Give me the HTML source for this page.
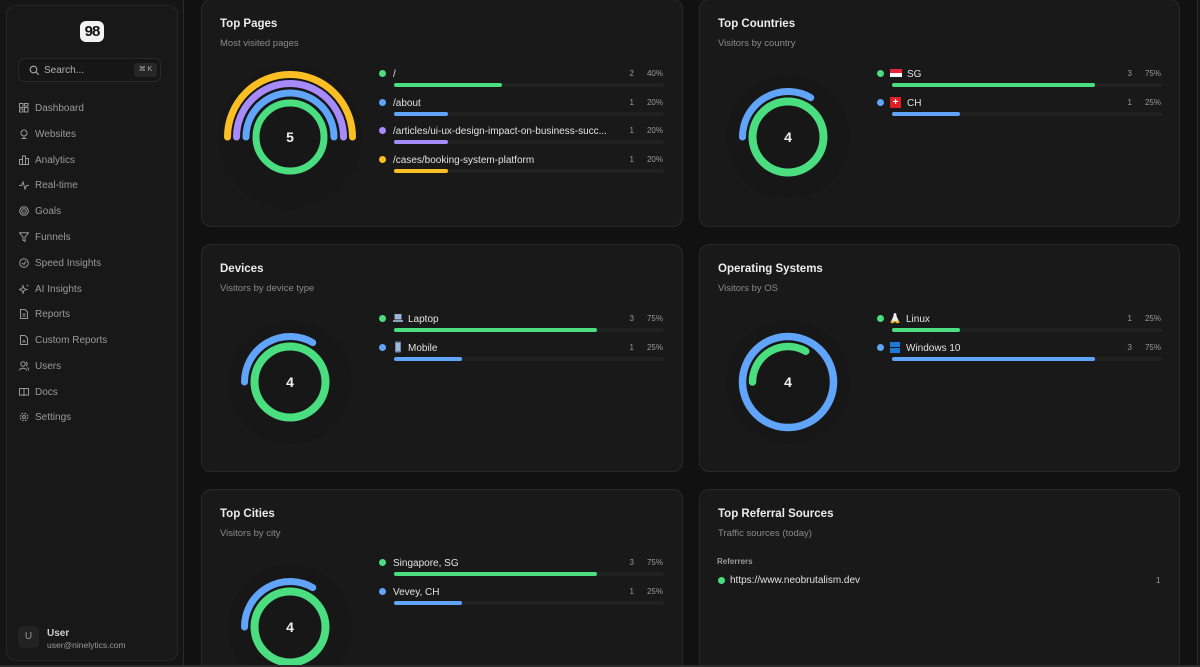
<!DOCTYPE html>
<html><head><meta charset="utf-8">
<style>
*{margin:0;padding:0;box-sizing:border-box}
html,body{width:1200px;height:667px;overflow:hidden;background:#151515;font-family:"Liberation Sans",sans-serif;}
#root{position:relative;width:1200px;height:667px;overflow:hidden;background:#151515}
.abs{position:absolute}
#side{position:absolute;left:6px;top:5px;width:172px;height:656px;background:#181818;border:1px solid #262626;border-radius:10px}
#main{position:absolute;left:183px;top:0;width:1015px;height:667px;background:#111111;border-left:1px solid #2a2a2a;border-right:1px solid #2a2a2a}
.card{position:absolute;background:#191919;border:1px solid #282828;border-radius:10px}
.title{position:absolute;left:18px;font-size:11.5px;font-weight:bold;color:#ececec}
.sub{position:absolute;left:18px;font-size:9.5px;color:#8a8a8a}
.nav{position:absolute;left:19px;font-size:10px;color:#9a9a9a;height:14px;line-height:14px;white-space:nowrap}
.nav svg{position:absolute;left:0;top:1px}
.nav span{position:absolute;left:16px}
.row{position:absolute;width:286px;height:24px}
.row .dot{position:absolute;left:0;top:3.5px;width:7px;height:7px;border-radius:50%}
.row .lbl{position:absolute;left:14px;top:2px;font-size:10px;line-height:14px;color:#e2e2e2;white-space:nowrap}
.row .cnt{position:absolute;right:31px;top:1px;font-size:8px;line-height:14px;color:#9a9a9a}
.row .pct{position:absolute;right:2px;top:1px;font-size:8px;line-height:14px;color:#9a9a9a}
.row .trk{position:absolute;left:15px;top:17px;width:270px;height:4px;border-radius:2px;background:#212121}
.row .fill{position:absolute;left:0;top:0;height:4px;border-radius:2px}
.g{background:#4ade80}.b{background:#60a5fa}.p{background:#a78bfa}.y{background:#fbbf24}
</style></head><body>
<div id="root">
<div id="side">
  <div class="abs" style="left:73px;top:15px;width:24px;height:21px;background:#f3f3f3;border-radius:6px;color:#111;font-weight:bold;font-size:15px;line-height:21px;text-align:center;letter-spacing:-1px">98</div>
  <div class="abs" style="left:11px;top:52px;width:143px;height:24px;border:1px solid #292929;border-radius:6px;background:#161616">
    <svg class="abs" style="left:10px;top:6px" width="11" height="11" viewBox="0 0 11 11"><circle cx="4.5" cy="4.5" r="3.3" fill="none" stroke="#aaa" stroke-width="1.1"/><line x1="7" y1="7" x2="9.8" y2="9.8" stroke="#aaa" stroke-width="1.1"/></svg>
    <span class="abs" style="left:25px;top:6px;font-size:10px;color:#b0b0b0">Search...</span>
    <span class="abs" style="left:115px;top:4px;width:23px;height:14px;background:#262626;border-radius:3px;font-size:7px;color:#aaa;text-align:center;line-height:14px">⌘ K</span>
  </div>
</div>

<div class="nav" style="top:102px"><svg width="10" height="10"><rect x="0.5" y="0.5" width="3.5" height="4" fill="none" stroke="#999"/><rect x="5.5" y="0.5" width="3.5" height="2.5" fill="none" stroke="#999"/><rect x="0.5" y="6" width="3.5" height="3" fill="none" stroke="#999"/><rect x="5.5" y="4.5" width="3.5" height="4.5" fill="none" stroke="#999"/></svg><span>Dashboard</span></div>
<div class="nav" style="top:128px"><svg width="10" height="10"><circle cx="5" cy="4" r="3" fill="none" stroke="#999"/><line x1="5" y1="7" x2="5" y2="9.5" stroke="#999"/><line x1="2.5" y1="9.5" x2="7.5" y2="9.5" stroke="#999"/></svg><span>Websites</span></div>
<div class="nav" style="top:154px"><svg width="10" height="10"><path d="M0.5 9.5V4.5H3.5V9.5M3.5 9.5V1H6.5V9.5M6.5 9.5V3.5H9.5V9.5H0.5" fill="none" stroke="#999"/></svg><span>Analytics</span></div>
<div class="nav" style="top:179px"><svg width="10" height="10"><path d="M0 5.5H2.5L4 2L6 9L7.5 5.5H10" fill="none" stroke="#999"/></svg><span>Real-time</span></div>
<div class="nav" style="top:205px"><svg width="10" height="10"><circle cx="5" cy="5" r="4.3" fill="none" stroke="#999"/><circle cx="5" cy="5" r="2.3" fill="none" stroke="#999"/><circle cx="5" cy="5" r="0.6" fill="#999"/></svg><span>Goals</span></div>
<div class="nav" style="top:231px"><svg width="10" height="10"><path d="M0.5 0.8H9.5L6 5V9.3L4 8.2V5Z" fill="none" stroke="#999"/></svg><span>Funnels</span></div>
<div class="nav" style="top:257px"><svg width="10" height="10"><circle cx="5" cy="5" r="4.3" fill="none" stroke="#999"/><path d="M3 5L5 6.5L7 3" fill="none" stroke="#999"/></svg><span>Speed Insights</span></div>
<div class="nav" style="top:283px"><svg width="10" height="10"><path d="M4 1.5L5 4.5L8 5.5L5 6.5L4 9.5L3 6.5L0 5.5L3 4.5Z" fill="none" stroke="#999" stroke-width="0.9"/><circle cx="8.5" cy="1.5" r="0.8" fill="#999"/></svg><span>AI Insights</span></div>
<div class="nav" style="top:308px"><svg width="10" height="10"><path d="M1.5 0.5H6L8.5 3V9.5H1.5Z" fill="none" stroke="#999"/><line x1="3.5" y1="5" x2="6.5" y2="5" stroke="#999"/><line x1="3.5" y1="7" x2="6.5" y2="7" stroke="#999"/></svg><span>Reports</span></div>
<div class="nav" style="top:334px"><svg width="10" height="10"><path d="M1.5 0.5H6L8.5 3V9.5H1.5Z" fill="none" stroke="#999"/><path d="M3.5 7.5L5 5.5L6.5 7.5" fill="none" stroke="#999"/></svg><span>Custom Reports</span></div>
<div class="nav" style="top:360px"><svg width="10" height="10"><circle cx="4" cy="3" r="2.2" fill="none" stroke="#999"/><path d="M0.5 9.5C0.5 6.5 7.5 6.5 7.5 9.5" fill="none" stroke="#999"/><path d="M7 1C8.5 1.5 8.5 4.5 7 5M8.5 6.5C9.5 7 9.5 8 9.5 9.5" fill="none" stroke="#999"/></svg><span>Users</span></div>
<div class="nav" style="top:386px"><svg width="10" height="10"><path d="M0.5 1.5H4C4.5 1.5 5 2 5 2.5V9C5 8.5 4.5 8 4 8H0.5ZM9.5 1.5H6C5.5 1.5 5 2 5 2.5V9C5 8.5 5.5 8 6 8H9.5Z" fill="none" stroke="#999"/></svg><span>Docs</span></div>
<div class="nav" style="top:411px"><svg width="10" height="10"><circle cx="5" cy="5" r="3.8" fill="none" stroke="#999" stroke-dasharray="2 1"/><circle cx="5" cy="5" r="1.5" fill="none" stroke="#999"/></svg><span>Settings</span></div>

<div class="abs" style="left:18px;top:626px;width:21px;height:22px;background:#222;border-radius:5px;color:#999;font-size:10px;line-height:22px;text-align:center">U</div>
<div class="abs" style="left:47px;top:628px;font-size:10px;font-weight:bold;color:#cfcfcf">User</div>
<div class="abs" style="left:47px;top:640px;font-size:8.5px;color:#9a9a9a">user@ninelytics.com</div>

<div id="main"></div>

<!-- cards -->
<div class="card" style="left:201px;top:-1px;width:482px;height:228px"><div class="title" style="top:18px">Top Pages</div><div class="sub" style="top:38px">Most visited pages</div></div>
<div class="card" style="left:699px;top:-1px;width:481px;height:228px"><div class="title" style="top:18px">Top Countries</div><div class="sub" style="top:38px">Visitors by country</div></div>
<div class="card" style="left:201px;top:244px;width:482px;height:228px"><div class="title" style="top:18px">Devices</div><div class="sub" style="top:38px">Visitors by device type</div></div>
<div class="card" style="left:699px;top:244px;width:481px;height:228px"><div class="title" style="top:18px">Operating Systems</div><div class="sub" style="top:38px">Visitors by OS</div></div>
<div class="card" style="left:201px;top:489px;width:482px;height:200px"><div class="title" style="top:18px">Top Cities</div><div class="sub" style="top:38px">Visitors by city</div></div>
<div class="card" style="left:699px;top:489px;width:481px;height:200px"><div class="title" style="top:18px">Top Referral Sources</div><div class="sub" style="top:38px">Traffic sources (today)</div>
  <div class="abs" style="left:17px;top:67px;font-size:8px;font-weight:bold;color:#9a9a9a">Referrers</div>
  <div class="abs" style="left:18px;top:87px;width:7px;height:7px;border-radius:50%;background:#4ade80"></div>
  <div class="abs" style="left:30px;top:85px;font-size:10px;color:#e2e2e2">https://www.neobrutalism.dev</div>
  <div class="abs" style="left:456px;top:86px;font-size:8px;color:#9a9a9a">1</div>
</div>

<!-- donuts -->
<svg class="abs" style="left:0;top:0" width="1200" height="667" viewBox="0 0 1200 667">
  <g fill="#161616" opacity="0.5">
    <circle cx="290" cy="137" r="72"/><circle cx="788" cy="137" r="62"/>
    <circle cx="290" cy="382" r="62"/><circle cx="788" cy="382" r="62"/>
    <circle cx="290" cy="627" r="62"/>
  </g>
  <g fill="none" stroke-linecap="round">
    <circle cx="290" cy="137" r="34" stroke="#4ade80" stroke-width="7"/>
    <path d="M246 137A44 44 0 0 1 334 137" stroke="#60a5fa" stroke-width="7"/>
    <path d="M236.5 137A53.5 53.5 0 0 1 343.5 137" stroke="#a78bfa" stroke-width="7"/>
    <path d="M227.5 137A62.5 62.5 0 0 1 352.5 137" stroke="#fbbf24" stroke-width="7"/>

    <circle cx="788" cy="137" r="35.5" stroke="#4ade80" stroke-width="8"/>
    <path d="M742.5 137A45.5 45.5 0 0 1 810.75 97.6" stroke="#60a5fa" stroke-width="7"/>

    <circle cx="290" cy="382" r="35.5" stroke="#4ade80" stroke-width="8"/>
    <path d="M244.5 382A45.5 45.5 0 0 1 312.75 342.6" stroke="#60a5fa" stroke-width="7"/>

    <circle cx="788" cy="382" r="45.5" stroke="#60a5fa" stroke-width="7.5"/>
    <path d="M752.5 382A35.5 35.5 0 0 1 805.75 351.26" stroke="#4ade80" stroke-width="7.5"/>

    <circle cx="290" cy="627" r="35.5" stroke="#4ade80" stroke-width="8"/>
    <path d="M244.5 627A45.5 45.5 0 0 1 312.75 587.6" stroke="#60a5fa" stroke-width="7"/>
  </g>
  <g font-family="Liberation Sans, sans-serif" font-size="14" font-weight="bold" fill="#f0f0f0" text-anchor="middle">
    <text x="290" y="142">5</text><text x="788" y="142">4</text>
    <text x="290" y="387">4</text><text x="788" y="387">4</text><text x="290" y="632">4</text>
  </g>
</svg>

<!-- Top pages legend -->
<div class="row" style="left:379px;top:66px"><div class="dot g"></div><div class="lbl">/</div><div class="cnt">2</div><div class="pct">40%</div><div class="trk"><div class="fill g" style="width:108px"></div></div></div>
<div class="row" style="left:379px;top:95px"><div class="dot b"></div><div class="lbl">/about</div><div class="cnt">1</div><div class="pct">20%</div><div class="trk"><div class="fill b" style="width:54px"></div></div></div>
<div class="row" style="left:379px;top:123px"><div class="dot p"></div><div class="lbl">/articles/ui-ux-design-impact-on-business-succ...</div><div class="cnt">1</div><div class="pct">20%</div><div class="trk"><div class="fill p" style="width:54px"></div></div></div>
<div class="row" style="left:379px;top:152px"><div class="dot y"></div><div class="lbl">/cases/booking-system-platform</div><div class="cnt">1</div><div class="pct">20%</div><div class="trk"><div class="fill y" style="width:54px"></div></div></div>

<!-- countries -->
<div class="row" style="left:877px;top:66px"><div class="dot g"></div>
  <div class="abs" style="left:13px;top:3px;width:12px;height:8px;background:#fff;border-top:4px solid #e5263a"></div>
  <div class="lbl" style="left:30px">SG</div><div class="cnt">3</div><div class="pct">75%</div><div class="trk"><div class="fill g" style="width:203px"></div></div></div>
<div class="row" style="left:877px;top:95px"><div class="dot b"></div>
  <div class="abs" style="left:13px;top:1.5px;width:11px;height:11px;background:#e11d24;color:#fff;font-size:10px;font-weight:bold;line-height:11px;text-align:center">+</div>
  <div class="lbl" style="left:30px">CH</div><div class="cnt">1</div><div class="pct">25%</div><div class="trk"><div class="fill b" style="width:68px"></div></div></div>

<!-- devices -->
<div class="row" style="left:379px;top:311px"><div class="dot g"></div>
  <svg class="abs" style="left:14px;top:2px" width="10" height="10"><rect x="1.5" y="1" width="7" height="5.5" fill="#9bb5d6"/><rect x="0" y="7" width="10" height="2" fill="#8aa0bb"/></svg>
  <div class="lbl" style="left:29px">Laptop</div><div class="cnt">3</div><div class="pct">75%</div><div class="trk"><div class="fill g" style="width:203px"></div></div></div>
<div class="row" style="left:379px;top:340px"><div class="dot b"></div>
  <svg class="abs" style="left:15px;top:1px" width="8" height="12"><rect x="1" y="0.5" width="6" height="11" rx="1" fill="#6f86a8"/><rect x="2" y="2" width="4" height="8" fill="#9db7dd"/></svg>
  <div class="lbl" style="left:29px">Mobile</div><div class="cnt">1</div><div class="pct">25%</div><div class="trk"><div class="fill b" style="width:68px"></div></div></div>

<!-- OS -->
<div class="row" style="left:877px;top:311px"><div class="dot g"></div>
  <svg class="abs" style="left:13px;top:1px" width="10" height="12"><path d="M5 1C3.5 1 3.5 3 3.5 4L1 9.5H9L6.5 4C6.5 3 6.5 1 5 1Z" fill="#eee"/><ellipse cx="2.5" cy="10" rx="2" ry="1.2" fill="#f5b52a"/><ellipse cx="7.5" cy="10" rx="2" ry="1.2" fill="#f5b52a"/></svg>
  <div class="lbl" style="left:29px">Linux</div><div class="cnt">1</div><div class="pct">25%</div><div class="trk"><div class="fill g" style="width:68px"></div></div></div>
<div class="row" style="left:877px;top:340px"><div class="dot b"></div>
  <svg class="abs" style="left:13px;top:1.5px" width="10" height="11"><rect x="0" y="0" width="10" height="5" fill="#1e7ad6"/><rect x="0" y="6" width="10" height="5" fill="#1e7ad6"/></svg>
  <div class="lbl" style="left:29px">Windows 10</div><div class="cnt">3</div><div class="pct">75%</div><div class="trk"><div class="fill b" style="width:203px"></div></div></div>

<!-- cities -->
<div class="row" style="left:379px;top:555px"><div class="dot g"></div><div class="lbl">Singapore, SG</div><div class="cnt">3</div><div class="pct">75%</div><div class="trk"><div class="fill g" style="width:203px"></div></div></div>
<div class="row" style="left:379px;top:584px"><div class="dot b"></div><div class="lbl">Vevey, CH</div><div class="cnt">1</div><div class="pct">25%</div><div class="trk"><div class="fill b" style="width:68px"></div></div></div>

<div class="abs" style="left:0;top:665px;width:1200px;height:2px;background:#2c2c2c"></div>
</div>
</body></html>
